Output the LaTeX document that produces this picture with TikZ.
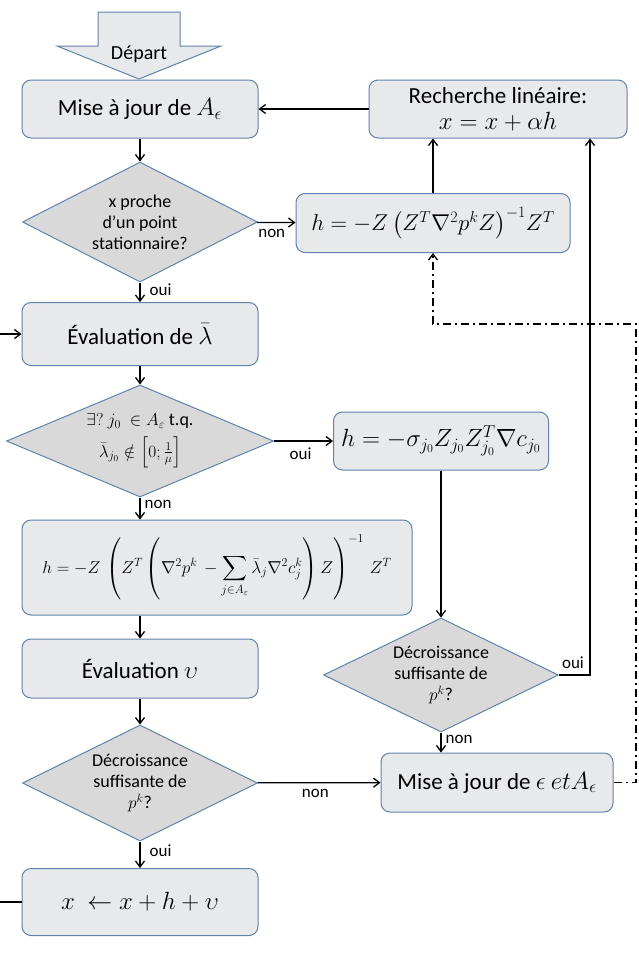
\documentclass[tikz,border=0pt]{standalone}
\usepackage{amsmath}
\usepackage{graphicx}
\usepackage{fontspec}
\setmainfont{Carlito}
\usetikzlibrary{shapes.geometric,arrows.meta}
\definecolor{bfill}{HTML}{E8E9EB}
\definecolor{dfill}{HTML}{D9D9D9}
\definecolor{bdraw}{HTML}{6182AB}
\begin{document}
\begin{tikzpicture}[x=1pt,y=-1pt,
  >={Straight Barb[length=6pt,width=9pt]},
  box/.style={draw=bdraw, fill=bfill, rounded corners=9pt, line width=1pt, inner sep=0pt, align=center, font=\fontsize{23}{28}\selectfont},
  dia/.style={diamond, aspect=2.2, draw=bdraw, fill=dfill, line width=1pt, inner sep=0pt, align=center, font=\fontsize{18}{21}\selectfont},
  conn/.style={->, line width=1.3pt},
  dashdot/.style={line width=1.3pt, dash pattern=on 8pt off 4pt on 2pt off 4pt},
  lab/.style={font=\fontsize{17}{19}\selectfont, inner sep=0pt}]
\useasboundingbox (0,0) rectangle (639,953);

% start arrow
\draw[draw=bdraw, fill=bfill, line width=1pt] (98,12) -- (180,12) -- (180,46) -- (221,46) -- (139,79) -- (57,46) -- (98,46) -- cycle;
\node[font=\fontsize{20}{24}\selectfont] (depart) at (139,54) {Départ};

% boxes
\node[box, minimum width=236pt, minimum height=58pt] (mise1) at (140,109) {Mise à jour de $A_\epsilon$};
\node[box, minimum width=258pt, minimum height=58pt] (rech) at (498,109) {Recherche linéaire:\\[-2pt]$x = x + \alpha h$};
\node[box, minimum width=274pt, minimum height=59pt] (hbox1) at (433,223) {\scalebox{0.92}{$h = -Z\,\bigl(Z^T\nabla^2p^kZ\bigr)^{-1}Z^T$}};
\node[box, minimum width=236pt, minimum height=63pt] (eval1) at (140,334) {Évaluation de $\bar\lambda$};
\node[box, minimum width=215pt, minimum height=58pt, font=\fontsize{24}{30}\selectfont] (hbox2) at (441,441) {$h = -\sigma_{j_0}Z_{j_0}Z_{j_0}^T\nabla c_{j_0}$};
\node[box, minimum width=390pt, minimum height=95pt, font=\fontsize{18}{22}\selectfont] (big) at (217,567.5) {$\displaystyle h = -Z\,\left(Z^T\left(\nabla^2p^k\, -\sum_{j\in A_\varepsilon}\bar\lambda_j\nabla^2c_j^k\right)Z\right)^{-1}\,Z^T$};
\node[box, minimum width=236pt, minimum height=59pt] (evalv) at (140,668.5) {Évaluation $\upsilon$};
\node[box, minimum width=232pt, minimum height=59pt] (mise2) at (497,782.5) {Mise à jour de $\epsilon\ etA_\epsilon$};
\node[box, minimum width=236pt, minimum height=67pt, font=\fontsize{24}{28}\selectfont] (xbox) at (140,902) {$x\ \leftarrow x + h + \upsilon$};

% diamonds
\node[dia, minimum width=235pt, minimum height=120pt] (d1) at (140,222) {x proche\\d’un point\\stationnaire?};
\node[dia, aspect=2.4, minimum width=267pt, minimum height=112pt] (d2) at (140,441) {$\exists?\ j_0\ \in A_\varepsilon$ t.q.\\[7pt]$\bar\lambda_{j_0}\notin\left[0;\frac{1}{\mu}\right]$};
\node[dia, minimum width=235pt, minimum height=116pt] (d3) at (140,783) {Décroissance\\suffisante de\\$p^k$?};
\node[dia, minimum width=235pt, minimum height=114pt] (d4) at (441,675) {Décroissance\\suffisante de\\$p^k$?};

% helper coordinates
\coordinate (c1) at (636,324);
\coordinate (c2) at (590,675);
\coordinate (c3) at (-10,902);

% connectors
\draw[conn] (rech) -- (mise1);
\draw[conn] (mise1) -- (d1);
\draw[conn] (d1) -- node[lab, pos=0.38, below=6pt] (l1) {non} (hbox1);
\draw[conn] (hbox1.north) -- (hbox1.north |- rech.south);
\draw[conn] (d1) -- node[lab, pos=0.35, right=9pt] (l2) {oui} (eval1);
\draw[conn] (eval1) -- (d2);
\draw[conn] (d2) -- node[lab, pos=0.45, below=6pt] (l3) {oui} (hbox2);
\draw[conn] (d2.south) -- node[lab, pos=0.3, right=4pt] (l4) {non} (d2.south |- big.north);
\draw[conn] (evalv.north |- big.south) -- (evalv.north);
\draw[conn] (evalv) -- (d3);
\draw[conn] (d3) -- node[lab, pos=0.47, below=6pt] (l5) {non} (mise2);
\draw[conn] (d3) -- node[lab, pos=0.35, right=9pt] (l6) {oui} (xbox);
\draw[conn] (hbox2.south) -- (hbox2.south |- d4.north);
\draw[conn] (d4.east) -- node[lab, pos=0.45, above=6pt] (l7) {oui} (c2) -- (c2 |- rech.south);
\draw[conn] (d4.south) -- node[lab, pos=0.35, right=4pt] (l8) {non} (d4.south |- mise2.north);
\draw[->, dashdot] (mise2.east) -| (c1) -| (hbox1.south);
\draw[conn] (xbox.west) -- (c3) |- (eval1.west);
\end{tikzpicture}
\end{document}
